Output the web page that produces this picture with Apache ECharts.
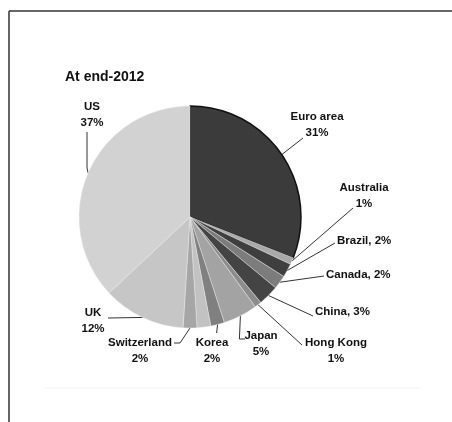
<!DOCTYPE html>
<html>
<head>
<meta charset="utf-8">
<script src="https://cdn.jsdelivr.net/npm/echarts@6/dist/echarts.min.js"></script>
<style>
html,body{margin:0;padding:0;background:#fff;}
#chart{width:452px;height:422px;}
</style>
</head>
<body>
<div id="chart"></div>
<script>
// ---- data ----
const categories = ['Euro area', 'Australia', 'Brazil', 'Canada', 'China', 'Hong Kong', 'Japan', 'Korea', 'Other', 'Switzerland', 'UK', 'US'];
const values     = [31, 1, 2, 2, 3, 1, 5, 2, 2, 2, 12, 37];
const labelTexts = ['Euro area\n31%', 'Australia\n1%', 'Brazil, 2%', 'Canada, 2%', 'China, 3%', 'Hong Kong\n1%', 'Japan\n5%', 'Korea\n2%', '', 'Switzerland\n2%', 'UK\n12%', 'US\n37%'];
const title = 'At end-2012';

// ---- styles / layout (not data) ----
const colors = ['#3b3b3b', '#a9a9a9', '#3f3f3f', '#7c7c7c', '#444444', '#8c8c8c', '#a3a3a3', '#808080', '#c2c2c2', '#a6a6a6', '#c6c6c6', '#d2d2d2'];
// label placement: [x, y, align, line end points (after pie-edge start)]
const labelPlace = [
  {x: 317, y: 125, align: 'center', line: [[303, 138]]},
  {x: 364, y: 196, align: 'center', line: [[353, 208]]},
  {x: 337, y: 241, align: 'left',   line: [[335, 243]]},
  {x: 326, y: 275, align: 'left',   line: [[324, 276]]},
  {x: 315, y: 312, align: 'left',   line: [[313, 316]]},
  {x: 336, y: 351, align: 'center', line: [[302, 345]]},
  {x: 261, y: 344, align: 'center', line: 'japan'},
  {x: 212, y: 351, align: 'center', line: 'korea'},
  null,
  {x: 140, y: 351, align: 'center', line: [[180, 343], [174, 343]]},
  {x: 93,  y: 321, align: 'center', line: [[108, 318]]},
  {x: 92,  y: 115, align: 'center', line: [[87, 168], [87, 132]]}
];

const chart = echarts.init(document.getElementById('chart'), null, {renderer: 'canvas'});

const pieData = categories.map((c, i) => ({
  name: c,
  value: values[i],
  itemStyle: i === 0
    ? {color: colors[i], borderColor: '#111', borderWidth: 1.5}
    : {color: colors[i], borderColor: 'rgba(235,235,235,0.7)', borderWidth: 0.6},
  label: {show: labelTexts[i] !== '', formatter: labelTexts[i]},
  labelLine: {show: labelTexts[i] !== ''}
}));

chart.setOption({
  animation: false,
  backgroundColor: '#fff',
  title: {
    text: title,
    left: 60, top: 65,
    textStyle: {fontFamily: 'Liberation Sans, Arial, sans-serif', fontSize: 14, fontWeight: 'bold', color: '#111'}
  },
  graphic: [
    {type: 'line', shape: {x1: 9, y1: 11, x2: 9, y2: 422}, style: {stroke: '#333', lineWidth: 1.5}},
    {type: 'line', shape: {x1: 9, y1: 11, x2: 452, y2: 11}, style: {stroke: '#333', lineWidth: 1.5}},
    {type: 'line', shape: {x1: 45, y1: 388, x2: 420, y2: 388}, style: {stroke: '#f2f2f2', lineWidth: 1}}
  ],
  series: [{
    type: 'pie',
    center: [190, 217],
    radius: 111,
    startAngle: 90,
    clockwise: true,
    avoidLabelOverlap: false,
    data: pieData,
    label: {
      position: 'outside',
      fontFamily: 'Liberation Sans, Arial, sans-serif',
      fontSize: 11.5,
      fontWeight: 'bold',
      color: '#111',
      lineHeight: 16
    },
    labelLine: {
      show: true,
      length: 10,
      length2: 10,
      lineStyle: {color: '#333', width: 1}
    },
    labelLayout: function (p) {
      const pl = labelPlace[p.dataIndex];
      if (!pl) return {};
      const pts = p.labelLinePoints;
      const start = pts ? pts[0] : null;
      let line;
      if (pl.line === 'japan') {
        line = [start, [start[0] - 1, 339], [245, 339]];
      } else if (pl.line === 'korea') {
        line = [start, [start[0] - 1, 333]];
      } else {
        line = [start].concat(pl.line);
      }
      return {
        x: pl.x,
        y: pl.y,
        align: pl.align,
        verticalAlign: 'middle',
        labelLinePoints: line,
        hideOverlap: false,
        moveOverlap: null
      };
    }
  }]
});
</script>
</body>
</html>
